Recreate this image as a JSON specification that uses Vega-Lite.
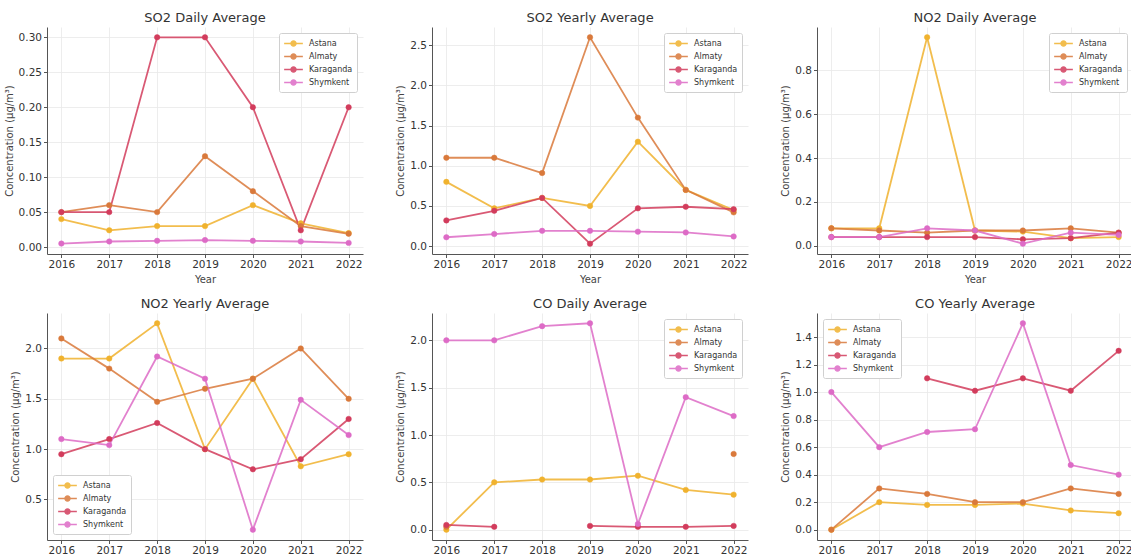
{
  "$schema": "https://vega.github.io/schema/vega-lite/v6.json",
  "padding": {"left": 4, "top": 12, "right": 0, "bottom": 0},
  "background": "white",
  "datasets": {
    "so2d": [
      {"city": "Astana", "year": 2016, "value": 0.04}, {"city": "Astana", "year": 2017, "value": 0.024}, {"city": "Astana", "year": 2018, "value": 0.03}, {"city": "Astana", "year": 2019, "value": 0.03}, {"city": "Astana", "year": 2020, "value": 0.06}, {"city": "Astana", "year": 2021, "value": 0.034}, {"city": "Astana", "year": 2022, "value": 0.02},
      {"city": "Almaty", "year": 2016, "value": 0.05}, {"city": "Almaty", "year": 2017, "value": 0.06}, {"city": "Almaty", "year": 2018, "value": 0.05}, {"city": "Almaty", "year": 2019, "value": 0.13}, {"city": "Almaty", "year": 2020, "value": 0.08}, {"city": "Almaty", "year": 2021, "value": 0.03}, {"city": "Almaty", "year": 2022, "value": 0.019},
      {"city": "Karaganda", "year": 2016, "value": 0.05}, {"city": "Karaganda", "year": 2017, "value": 0.05}, {"city": "Karaganda", "year": 2018, "value": 0.30}, {"city": "Karaganda", "year": 2019, "value": 0.30}, {"city": "Karaganda", "year": 2020, "value": 0.20}, {"city": "Karaganda", "year": 2021, "value": 0.024}, {"city": "Karaganda", "year": 2022, "value": 0.20},
      {"city": "Shymkent", "year": 2016, "value": 0.005}, {"city": "Shymkent", "year": 2017, "value": 0.008}, {"city": "Shymkent", "year": 2018, "value": 0.009}, {"city": "Shymkent", "year": 2019, "value": 0.01}, {"city": "Shymkent", "year": 2020, "value": 0.009}, {"city": "Shymkent", "year": 2021, "value": 0.008}, {"city": "Shymkent", "year": 2022, "value": 0.006}
    ],
    "so2y": [
      {"city": "Astana", "year": 2016, "value": 0.8}, {"city": "Astana", "year": 2017, "value": 0.47}, {"city": "Astana", "year": 2018, "value": 0.6}, {"city": "Astana", "year": 2019, "value": 0.5}, {"city": "Astana", "year": 2020, "value": 1.3}, {"city": "Astana", "year": 2021, "value": 0.7}, {"city": "Astana", "year": 2022, "value": 0.45},
      {"city": "Almaty", "year": 2016, "value": 1.1}, {"city": "Almaty", "year": 2017, "value": 1.1}, {"city": "Almaty", "year": 2018, "value": 0.91}, {"city": "Almaty", "year": 2019, "value": 2.6}, {"city": "Almaty", "year": 2020, "value": 1.6}, {"city": "Almaty", "year": 2021, "value": 0.7}, {"city": "Almaty", "year": 2022, "value": 0.42},
      {"city": "Karaganda", "year": 2016, "value": 0.32}, {"city": "Karaganda", "year": 2017, "value": 0.44}, {"city": "Karaganda", "year": 2018, "value": 0.6}, {"city": "Karaganda", "year": 2019, "value": 0.03}, {"city": "Karaganda", "year": 2020, "value": 0.47}, {"city": "Karaganda", "year": 2021, "value": 0.49}, {"city": "Karaganda", "year": 2022, "value": 0.46},
      {"city": "Shymkent", "year": 2016, "value": 0.11}, {"city": "Shymkent", "year": 2017, "value": 0.15}, {"city": "Shymkent", "year": 2018, "value": 0.19}, {"city": "Shymkent", "year": 2019, "value": 0.19}, {"city": "Shymkent", "year": 2020, "value": 0.18}, {"city": "Shymkent", "year": 2021, "value": 0.17}, {"city": "Shymkent", "year": 2022, "value": 0.12}
    ],
    "no2d": [
      {"city": "Astana", "year": 2016, "value": 0.08}, {"city": "Astana", "year": 2017, "value": 0.08}, {"city": "Astana", "year": 2018, "value": 0.95}, {"city": "Astana", "year": 2019, "value": 0.07}, {"city": "Astana", "year": 2020, "value": 0.065}, {"city": "Astana", "year": 2021, "value": 0.035}, {"city": "Astana", "year": 2022, "value": 0.04},
      {"city": "Almaty", "year": 2016, "value": 0.08}, {"city": "Almaty", "year": 2017, "value": 0.07}, {"city": "Almaty", "year": 2018, "value": 0.06}, {"city": "Almaty", "year": 2019, "value": 0.07}, {"city": "Almaty", "year": 2020, "value": 0.07}, {"city": "Almaty", "year": 2021, "value": 0.08}, {"city": "Almaty", "year": 2022, "value": 0.06},
      {"city": "Karaganda", "year": 2016, "value": 0.04}, {"city": "Karaganda", "year": 2017, "value": 0.04}, {"city": "Karaganda", "year": 2018, "value": 0.04}, {"city": "Karaganda", "year": 2019, "value": 0.04}, {"city": "Karaganda", "year": 2020, "value": 0.03}, {"city": "Karaganda", "year": 2021, "value": 0.035}, {"city": "Karaganda", "year": 2022, "value": 0.06},
      {"city": "Shymkent", "year": 2016, "value": 0.04}, {"city": "Shymkent", "year": 2017, "value": 0.04}, {"city": "Shymkent", "year": 2018, "value": 0.08}, {"city": "Shymkent", "year": 2019, "value": 0.07}, {"city": "Shymkent", "year": 2020, "value": 0.01}, {"city": "Shymkent", "year": 2021, "value": 0.06}, {"city": "Shymkent", "year": 2022, "value": 0.05}
    ],
    "no2y": [
      {"city": "Astana", "year": 2016, "value": 1.9}, {"city": "Astana", "year": 2017, "value": 1.9}, {"city": "Astana", "year": 2018, "value": 2.25}, {"city": "Astana", "year": 2019, "value": 1.0}, {"city": "Astana", "year": 2020, "value": 1.7}, {"city": "Astana", "year": 2021, "value": 0.83}, {"city": "Astana", "year": 2022, "value": 0.95},
      {"city": "Almaty", "year": 2016, "value": 2.1}, {"city": "Almaty", "year": 2017, "value": 1.8}, {"city": "Almaty", "year": 2018, "value": 1.47}, {"city": "Almaty", "year": 2019, "value": 1.6}, {"city": "Almaty", "year": 2020, "value": 1.7}, {"city": "Almaty", "year": 2021, "value": 2.0}, {"city": "Almaty", "year": 2022, "value": 1.5},
      {"city": "Karaganda", "year": 2016, "value": 0.95}, {"city": "Karaganda", "year": 2017, "value": 1.1}, {"city": "Karaganda", "year": 2018, "value": 1.26}, {"city": "Karaganda", "year": 2019, "value": 1.0}, {"city": "Karaganda", "year": 2020, "value": 0.8}, {"city": "Karaganda", "year": 2021, "value": 0.9}, {"city": "Karaganda", "year": 2022, "value": 1.3},
      {"city": "Shymkent", "year": 2016, "value": 1.1}, {"city": "Shymkent", "year": 2017, "value": 1.04}, {"city": "Shymkent", "year": 2018, "value": 1.92}, {"city": "Shymkent", "year": 2019, "value": 1.7}, {"city": "Shymkent", "year": 2020, "value": 0.2}, {"city": "Shymkent", "year": 2021, "value": 1.49}, {"city": "Shymkent", "year": 2022, "value": 1.14}
    ],
    "cod": [
      {"city": "Astana", "year": 2016, "value": 0.0}, {"city": "Astana", "year": 2017, "value": 0.5}, {"city": "Astana", "year": 2018, "value": 0.53}, {"city": "Astana", "year": 2019, "value": 0.53}, {"city": "Astana", "year": 2020, "value": 0.57}, {"city": "Astana", "year": 2021, "value": 0.42}, {"city": "Astana", "year": 2022, "value": 0.37},
      {"city": "Almaty", "year": 2016, "value": 0.03}, {"city": "Almaty", "year": 2017, "value": null}, {"city": "Almaty", "year": 2018, "value": null}, {"city": "Almaty", "year": 2019, "value": null}, {"city": "Almaty", "year": 2020, "value": null}, {"city": "Almaty", "year": 2021, "value": null}, {"city": "Almaty", "year": 2022, "value": 0.8},
      {"city": "Karaganda", "year": 2016, "value": 0.05}, {"city": "Karaganda", "year": 2017, "value": 0.03}, {"city": "Karaganda", "year": 2018, "value": null}, {"city": "Karaganda", "year": 2019, "value": 0.04}, {"city": "Karaganda", "year": 2020, "value": 0.03}, {"city": "Karaganda", "year": 2021, "value": 0.03}, {"city": "Karaganda", "year": 2022, "value": 0.04},
      {"city": "Shymkent", "year": 2016, "value": 2.0}, {"city": "Shymkent", "year": 2017, "value": 2.0}, {"city": "Shymkent", "year": 2018, "value": 2.15}, {"city": "Shymkent", "year": 2019, "value": 2.18}, {"city": "Shymkent", "year": 2020, "value": 0.06}, {"city": "Shymkent", "year": 2021, "value": 1.4}, {"city": "Shymkent", "year": 2022, "value": 1.2}
    ],
    "coy": [
      {"city": "Astana", "year": 2016, "value": 0.0}, {"city": "Astana", "year": 2017, "value": 0.2}, {"city": "Astana", "year": 2018, "value": 0.18}, {"city": "Astana", "year": 2019, "value": 0.18}, {"city": "Astana", "year": 2020, "value": 0.19}, {"city": "Astana", "year": 2021, "value": 0.14}, {"city": "Astana", "year": 2022, "value": 0.12},
      {"city": "Almaty", "year": 2016, "value": 0.0}, {"city": "Almaty", "year": 2017, "value": 0.3}, {"city": "Almaty", "year": 2018, "value": 0.26}, {"city": "Almaty", "year": 2019, "value": 0.2}, {"city": "Almaty", "year": 2020, "value": 0.2}, {"city": "Almaty", "year": 2021, "value": 0.3}, {"city": "Almaty", "year": 2022, "value": 0.26},
      {"city": "Karaganda", "year": 2016, "value": null}, {"city": "Karaganda", "year": 2017, "value": null}, {"city": "Karaganda", "year": 2018, "value": 1.1}, {"city": "Karaganda", "year": 2019, "value": 1.01}, {"city": "Karaganda", "year": 2020, "value": 1.1}, {"city": "Karaganda", "year": 2021, "value": 1.01}, {"city": "Karaganda", "year": 2022, "value": 1.3},
      {"city": "Shymkent", "year": 2016, "value": 1.0}, {"city": "Shymkent", "year": 2017, "value": 0.6}, {"city": "Shymkent", "year": 2018, "value": 0.71}, {"city": "Shymkent", "year": 2019, "value": 0.73}, {"city": "Shymkent", "year": 2020, "value": 1.5}, {"city": "Shymkent", "year": 2021, "value": 0.47}, {"city": "Shymkent", "year": 2022, "value": 0.4}
    ]
  },
  "columns": 3,
  "spacing": {"row": 14, "column": 32},
  "resolve": {"scale": {"stroke": "independent", "fill": "independent", "y": "independent", "x": "independent"}, "legend": {"stroke": "independent", "fill": "independent"}},
  "concat": [
    {
      "title": "SO2 Daily Average",
      "width": 316, "height": 227,
      "data": {"name": "so2d"},
      "encoding": {
        "x": {"field": "year", "type": "quantitative", "scale": {"domain": [2015.7, 2022.3], "nice": false, "zero": false}, "axis": {"values": [2016, 2017, 2018, 2019, 2020, 2021, 2022], "format": "d", "title": "Year"}},
        "y": {"field": "value", "type": "quantitative", "scale": {"domain": [-0.0099, 0.3148], "nice": false, "zero": false}, "axis": {"values": [0, 0.05, 0.1, 0.15, 0.2, 0.25, 0.3], "format": ".2f", "title": "Concentration (µg/m³)"}},
        "stroke": {"field": "city", "type": "nominal", "sort": ["Astana", "Almaty", "Karaganda", "Shymkent"], "scale": {"domain": ["Astana", "Almaty", "Karaganda", "Shymkent"], "range": ["#f0b22e", "#d9793b", "#d23c5c", "#dd6bc6"]}, "legend": {"orient": "top-right", "title": null}}
      },
      "layer": [
        {"mark": {"type": "line", "strokeWidth": 1.8, "opacity": 0.85, "invalid": "break-paths-filter-domains"}},
        {"mark": {"type": "point", "filled": true, "size": 30, "opacity": 1, "strokeWidth": 0.5}, "encoding": {"fill": {"field": "city", "type": "nominal", "sort": ["Astana", "Almaty", "Karaganda", "Shymkent"], "scale": {"domain": ["Astana", "Almaty", "Karaganda", "Shymkent"], "range": ["#f0b22e", "#d9793b", "#d23c5c", "#dd6bc6"]}, "legend": {"orient": "top-right", "title": null}}}}
      ]
    },
    {
      "title": "SO2 Yearly Average",
      "width": 316, "height": 227,
      "data": {"name": "so2y"},
      "encoding": {
        "x": {"field": "year", "type": "quantitative", "scale": {"domain": [2015.7, 2022.3], "nice": false, "zero": false}, "axis": {"values": [2016, 2017, 2018, 2019, 2020, 2021, 2022], "format": "d", "title": "Year"}},
        "y": {"field": "value", "type": "quantitative", "scale": {"domain": [-0.0985, 2.7285], "nice": false, "zero": false}, "axis": {"values": [0, 0.5, 1, 1.5, 2, 2.5], "format": ".1f", "title": "Concentration (µg/m³)"}},
        "stroke": {"field": "city", "type": "nominal", "sort": ["Astana", "Almaty", "Karaganda", "Shymkent"], "scale": {"domain": ["Astana", "Almaty", "Karaganda", "Shymkent"], "range": ["#f0b22e", "#d9793b", "#d23c5c", "#dd6bc6"]}, "legend": {"orient": "top-right", "title": null}}
      },
      "layer": [
        {"mark": {"type": "line", "strokeWidth": 1.8, "opacity": 0.85, "invalid": "break-paths-filter-domains"}},
        {"mark": {"type": "point", "filled": true, "size": 30, "opacity": 1, "strokeWidth": 0.5}, "encoding": {"fill": {"field": "city", "type": "nominal", "sort": ["Astana", "Almaty", "Karaganda", "Shymkent"], "scale": {"domain": ["Astana", "Almaty", "Karaganda", "Shymkent"], "range": ["#f0b22e", "#d9793b", "#d23c5c", "#dd6bc6"]}, "legend": {"orient": "top-right", "title": null}}}}
      ]
    },
    {
      "title": "NO2 Daily Average",
      "width": 316, "height": 227,
      "data": {"name": "no2d"},
      "encoding": {
        "x": {"field": "year", "type": "quantitative", "scale": {"domain": [2015.7, 2022.3], "nice": false, "zero": false}, "axis": {"values": [2016, 2017, 2018, 2019, 2020, 2021, 2022], "format": "d", "title": "Year"}},
        "y": {"field": "value", "type": "quantitative", "scale": {"domain": [-0.037, 0.997], "nice": false, "zero": false}, "axis": {"values": [0, 0.2, 0.4, 0.6, 0.8], "format": ".1f", "title": "Concentration (µg/m³)"}},
        "stroke": {"field": "city", "type": "nominal", "sort": ["Astana", "Almaty", "Karaganda", "Shymkent"], "scale": {"domain": ["Astana", "Almaty", "Karaganda", "Shymkent"], "range": ["#f0b22e", "#d9793b", "#d23c5c", "#dd6bc6"]}, "legend": {"orient": "top-right", "title": null}}
      },
      "layer": [
        {"mark": {"type": "line", "strokeWidth": 1.8, "opacity": 0.85, "invalid": "break-paths-filter-domains"}},
        {"mark": {"type": "point", "filled": true, "size": 30, "opacity": 1, "strokeWidth": 0.5}, "encoding": {"fill": {"field": "city", "type": "nominal", "sort": ["Astana", "Almaty", "Karaganda", "Shymkent"], "scale": {"domain": ["Astana", "Almaty", "Karaganda", "Shymkent"], "range": ["#f0b22e", "#d9793b", "#d23c5c", "#dd6bc6"]}, "legend": {"orient": "top-right", "title": null}}}}
      ]
    },
    {
      "title": "NO2 Yearly Average",
      "width": 316, "height": 227,
      "data": {"name": "no2y"},
      "encoding": {
        "x": {"field": "year", "type": "quantitative", "scale": {"domain": [2015.7, 2022.3], "nice": false, "zero": false}, "axis": {"values": [2016, 2017, 2018, 2019, 2020, 2021, 2022], "format": "d", "title": null}},
        "y": {"field": "value", "type": "quantitative", "scale": {"domain": [0.0975, 2.3525], "nice": false, "zero": false}, "axis": {"values": [0.5, 1, 1.5, 2], "format": ".1f", "title": "Concentration (µg/m³)"}},
        "stroke": {"field": "city", "type": "nominal", "sort": ["Astana", "Almaty", "Karaganda", "Shymkent"], "scale": {"domain": ["Astana", "Almaty", "Karaganda", "Shymkent"], "range": ["#f0b22e", "#d9793b", "#d23c5c", "#dd6bc6"]}, "legend": {"orient": "bottom-left", "title": null}}
      },
      "layer": [
        {"mark": {"type": "line", "strokeWidth": 1.8, "opacity": 0.85, "invalid": "break-paths-filter-domains"}},
        {"mark": {"type": "point", "filled": true, "size": 30, "opacity": 1, "strokeWidth": 0.5}, "encoding": {"fill": {"field": "city", "type": "nominal", "sort": ["Astana", "Almaty", "Karaganda", "Shymkent"], "scale": {"domain": ["Astana", "Almaty", "Karaganda", "Shymkent"], "range": ["#f0b22e", "#d9793b", "#d23c5c", "#dd6bc6"]}, "legend": {"orient": "bottom-left", "title": null}}}}
      ]
    },
    {
      "title": "CO Daily Average",
      "width": 316, "height": 227,
      "data": {"name": "cod"},
      "encoding": {
        "x": {"field": "year", "type": "quantitative", "scale": {"domain": [2015.7, 2022.3], "nice": false, "zero": false}, "axis": {"values": [2016, 2017, 2018, 2019, 2020, 2021, 2022], "format": "d", "title": null}},
        "y": {"field": "value", "type": "quantitative", "scale": {"domain": [-0.109, 2.289], "nice": false, "zero": false}, "axis": {"values": [0, 0.5, 1, 1.5, 2], "format": ".1f", "title": "Concentration (µg/m³)"}},
        "stroke": {"field": "city", "type": "nominal", "sort": ["Astana", "Almaty", "Karaganda", "Shymkent"], "scale": {"domain": ["Astana", "Almaty", "Karaganda", "Shymkent"], "range": ["#f0b22e", "#d9793b", "#d23c5c", "#dd6bc6"]}, "legend": {"orient": "top-right", "title": null}}
      },
      "layer": [
        {"mark": {"type": "line", "strokeWidth": 1.8, "opacity": 0.85, "invalid": "break-paths-filter-domains"}},
        {"mark": {"type": "point", "filled": true, "size": 30, "opacity": 1, "strokeWidth": 0.5}, "encoding": {"fill": {"field": "city", "type": "nominal", "sort": ["Astana", "Almaty", "Karaganda", "Shymkent"], "scale": {"domain": ["Astana", "Almaty", "Karaganda", "Shymkent"], "range": ["#f0b22e", "#d9793b", "#d23c5c", "#dd6bc6"]}, "legend": {"orient": "top-right", "title": null}}}}
      ]
    },
    {
      "title": "CO Yearly Average",
      "width": 316, "height": 227,
      "data": {"name": "coy"},
      "encoding": {
        "x": {"field": "year", "type": "quantitative", "scale": {"domain": [2015.7, 2022.3], "nice": false, "zero": false}, "axis": {"values": [2016, 2017, 2018, 2019, 2020, 2021, 2022], "format": "d", "title": null}},
        "y": {"field": "value", "type": "quantitative", "scale": {"domain": [-0.075, 1.575], "nice": false, "zero": false}, "axis": {"values": [0, 0.2, 0.4, 0.6, 0.8, 1, 1.2, 1.4], "format": ".1f", "title": "Concentration (µg/m³)"}},
        "stroke": {"field": "city", "type": "nominal", "sort": ["Astana", "Almaty", "Karaganda", "Shymkent"], "scale": {"domain": ["Astana", "Almaty", "Karaganda", "Shymkent"], "range": ["#f0b22e", "#d9793b", "#d23c5c", "#dd6bc6"]}, "legend": {"orient": "top-left", "title": null}}
      },
      "layer": [
        {"mark": {"type": "line", "strokeWidth": 1.8, "opacity": 0.85, "invalid": "break-paths-filter-domains"}},
        {"mark": {"type": "point", "filled": true, "size": 30, "opacity": 1, "strokeWidth": 0.5}, "encoding": {"fill": {"field": "city", "type": "nominal", "sort": ["Astana", "Almaty", "Karaganda", "Shymkent"], "scale": {"domain": ["Astana", "Almaty", "Karaganda", "Shymkent"], "range": ["#f0b22e", "#d9793b", "#d23c5c", "#dd6bc6"]}, "legend": {"orient": "top-left", "title": null}}}}
      ]
    }
  ],
  "config": {
    "font": "DejaVu Sans",
    "view": {"stroke": null},
    "title": {"fontSize": 13, "fontWeight": "normal", "color": "#333", "offset": 2, "font": "DejaVu Sans"},
    "axis": {
      "grid": true, "gridColor": "#e8e8e8", "gridWidth": 0.8,
      "domainColor": "#555", "domainWidth": 1,
      "tickColor": "#555", "tickSize": 3.5,
      "labelFontSize": 10.5, "labelColor": "#333", "labelPadding": 2,
      "titleFontSize": 10, "titleFontWeight": "normal", "titleColor": "#444", "titlePadding": 4
    },
    "axisX": {"labelAngle": 0},
    "legend": {
      "labelFontSize": 8, "labelColor": "#333",
      "symbolType": "M-1.7,0H1.7M0.45,0A0.45,0.45,0,1,1,-0.45,0A0.45,0.45,0,1,1,0.45,0",
      "symbolSize": 121, "symbolStrokeWidth": 1.5, "symbolOffset": 4,
      "labelOffset": 9,
      "strokeColor": "#d0d0d0", "fillColor": "white", "padding": 4, "cornerRadius": 2,
      "rowPadding": 1, "offset": 6
    }
  }
}
